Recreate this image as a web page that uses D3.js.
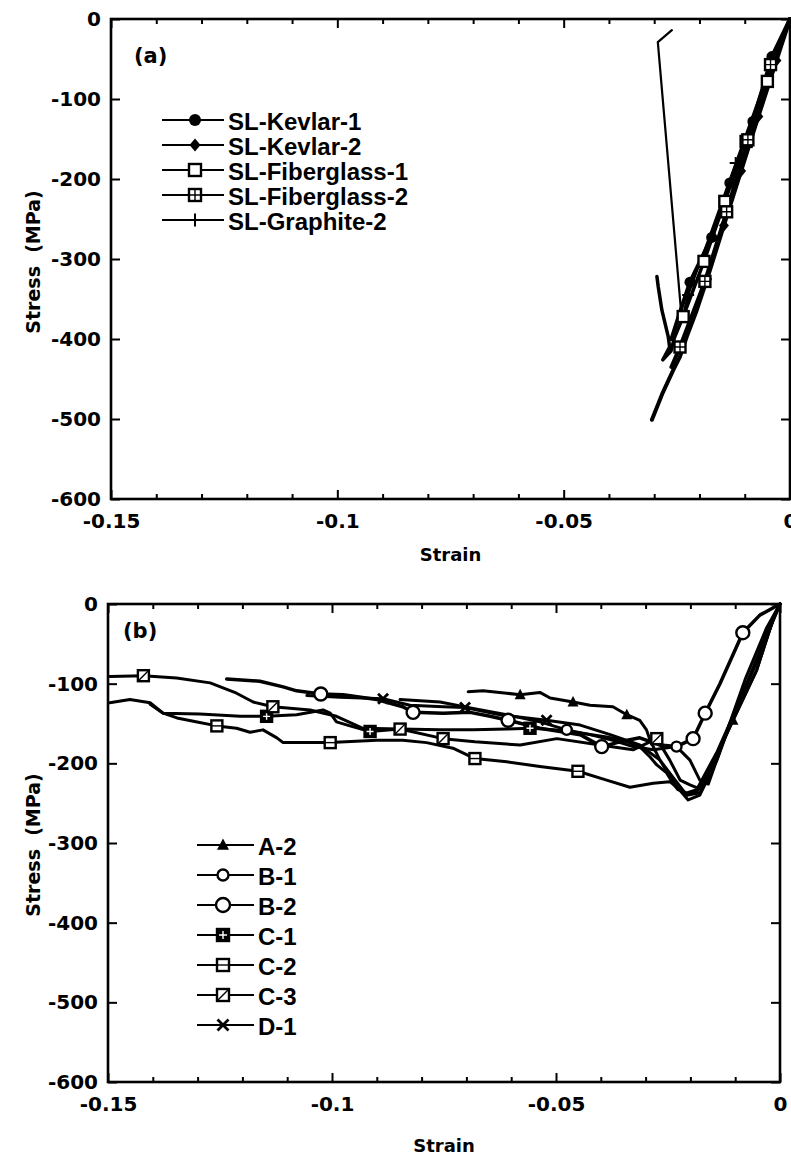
<!DOCTYPE html>
<html>
<head>
<meta charset="utf-8">
<style>
body { margin: 0; background: #fff; }
svg text { fill: #000; }
</style>
</head>
<body>
<svg width="791" height="1157"></svg>
<script src="https://cdn.jsdelivr.net/npm/d3@7"></script>
<script>
// axis ticks (both panels)
var strainTicks = [-0.15, -0.1, -0.05, 0];
var strainMinor = [-0.14, -0.13, -0.12, -0.11, -0.09, -0.08, -0.07, -0.06, -0.04, -0.03, -0.02, -0.01];
var stressTicks = [0, -100, -200, -300, -400, -500, -600];

// panel (a) : [strain, stress, 1 = marker drawn here]
var namesA = ["SL-Kevlar-1", "SL-Kevlar-2", "SL-Fiberglass-1", "SL-Fiberglass-2", "SL-Graphite-2"];
var kevlar1 = [[0,0],[-0.0040,-47,1],[-0.0082,-128,1],[-0.0133,-205,1],[-0.0173,-273,1],[-0.0221,-329,1],[-0.0245,-370],[-0.0262,-400]];
var kevlar2 = [[0,0],[-0.0030,-52,1],[-0.0070,-122,1],[-0.0108,-190,1],[-0.0146,-258,1],[-0.0183,-325,1],[-0.0206,-364],[-0.0228,-397],[-0.0243,-422],[-0.0258,-439],[-0.0281,-467],[-0.0305,-501]];
var fiberglass1 = [[0,0],[-0.0050,-78,1],[-0.0097,-153,1],[-0.0144,-228,1],[-0.0190,-303,1],[-0.0236,-372,1],[-0.0255,-398],[-0.0263,-415],[-0.0281,-426],[-0.0266,-410],[-0.0269,-397],[-0.0283,-364],[-0.0291,-335],[-0.0294,-322]];
var fiberglass2 = [[0,0],[-0.0043,-57,1],[-0.0093,-151,1],[-0.0140,-241,1],[-0.0188,-328,1],[-0.0243,-410,1],[-0.0262,-435]];
var graphite2 = [[0,0],[-0.0060,-85],[-0.0120,-180,1],[-0.0180,-275],[-0.0225,-345,1],[-0.0239,-376],[-0.0292,-29],[-0.0261,-14]];

// panel (b)
var namesB = ["A-2", "B-1", "B-2", "C-1", "C-2", "C-3", "D-1"];
var a2 = [[-0.0696,-110],[-0.0663,-109],[-0.0610,-112],[-0.0580,-114,1],[-0.0536,-111],[-0.0513,-118],[-0.0462,-123,1],[-0.0424,-127],[-0.0373,-129],[-0.0342,-139,1],[-0.0313,-146],[-0.0298,-158],[-0.0290,-171],[-0.0268,-196],[-0.0234,-221],[-0.0208,-240],[-0.0185,-235],[-0.0150,-200],[-0.0105,-146,1],[-0.0052,-83],[-0.0016,-20],[0,0]];
var b1 = [[-0.0848,-120],[-0.0759,-123],[-0.0685,-131],[-0.0610,-139],[-0.0536,-148],[-0.0476,-158,1],[-0.0424,-164],[-0.0373,-171],[-0.0328,-179],[-0.0283,-183],[-0.0231,-179,1],[-0.0201,-196],[-0.0179,-221],[-0.0160,-226],[-0.0125,-170],[-0.0078,-95],[-0.0030,-30],[0,0]];
var b2 = [[-0.1235,-94],[-0.1161,-97],[-0.1109,-104],[-0.1079,-109],[-0.1025,-113,1],[-0.0975,-114],[-0.0900,-120],[-0.0842,-129],[-0.0819,-136,1],[-0.0752,-137],[-0.0692,-136],[-0.0647,-141],[-0.0607,-146,1],[-0.0536,-156],[-0.0446,-164],[-0.0398,-179,1],[-0.0357,-173],[-0.0313,-168],[-0.0268,-177],[-0.0231,-179],[-0.0194,-169,1],[-0.0167,-137,1],[-0.0134,-100],[-0.0083,-36,1],[-0.0045,-14],[0,0]];
var c1 = [[-0.1406,-126],[-0.1377,-137],[-0.1295,-138],[-0.1205,-141],[-0.1146,-141,1],[-0.1079,-139],[-0.1020,-133],[-0.1004,-137],[-0.0990,-148],[-0.0960,-153],[-0.0915,-160,1],[-0.0848,-157],[-0.0759,-158],[-0.0685,-158],[-0.0610,-157],[-0.0558,-156,1],[-0.0498,-158],[-0.0446,-162],[-0.0387,-167],[-0.0350,-171],[-0.0313,-179],[-0.0290,-192],[-0.0275,-202],[-0.0253,-212],[-0.0239,-225],[-0.0228,-233],[-0.0208,-237],[-0.0186,-233],[-0.0140,-185],[-0.0094,-127],[-0.0050,-66],[-0.0018,-20],[0,0]];
var c2 = [[-0.1496,-124],[-0.1451,-120],[-0.1406,-124],[-0.1377,-137],[-0.1346,-143],[-0.1301,-148],[-0.1257,-153,1],[-0.1213,-156],[-0.1183,-161],[-0.1154,-158],[-0.1123,-168],[-0.1109,-174],[-0.1049,-174],[-0.1004,-174,1],[-0.0900,-171],[-0.0842,-171],[-0.0789,-174],[-0.0730,-181],[-0.0681,-194,1],[-0.0610,-198],[-0.0536,-204],[-0.0451,-210,1],[-0.0387,-221],[-0.0335,-230],[-0.0283,-225],[-0.0246,-223],[-0.0208,-240],[-0.0179,-237],[-0.0105,-146],[-0.0052,-83],[-0.0016,-20],[0,0]];
var c3 = [[-0.1496,-91],[-0.1421,-90,1],[-0.1347,-93],[-0.1272,-99],[-0.1213,-112],[-0.1176,-123],[-0.1132,-129,1],[-0.1049,-133],[-0.0990,-141],[-0.0931,-156],[-0.0848,-157,1],[-0.0752,-169,1],[-0.0681,-173],[-0.0580,-177],[-0.0498,-169],[-0.0402,-177],[-0.0328,-183],[-0.0275,-169,1],[-0.0246,-196],[-0.0223,-221],[-0.0201,-227],[-0.0179,-232],[-0.0140,-190],[-0.0100,-135],[-0.0050,-70],[-0.0016,-22],[0,0]];
var d1 = [[-0.1056,-115],[-0.0982,-117],[-0.0886,-119,1],[-0.0826,-127],[-0.0752,-129],[-0.0703,-130,1],[-0.0625,-139],[-0.0521,-146,1],[-0.0446,-152],[-0.0379,-164],[-0.0313,-177],[-0.0268,-196],[-0.0234,-227],[-0.0205,-246],[-0.0179,-240],[-0.0140,-195],[-0.0100,-133],[-0.0045,-64],[-0.0015,-20],[0,0]];

var svg = d3.select("svg");

function marker(g, type, cx, cy, s) {
	var m = g.append("g").attr("transform", "translate(" + cx + "," + cy + ")");
	if (type == "dot") {
		m.append("circle").attr("r", s).attr("fill", "#000");
	} else if (type == "diamond") {
		m.append("path").attr("d", "M0," + (-s * 1.2) + "L" + s + ",0L0," + (s * 1.2) + "L" + (-s) + ",0Z").attr("fill", "#000");
	} else if (type == "plus") {
		m.append("path").attr("d", "M" + (-s) + ",0H" + s + "M0," + (-s) + "V" + s).attr("stroke", "#000").attr("stroke-width", 2);
	} else if (type == "triangle") {
		m.append("path").attr("d", "M0," + (-s * 1.1) + "L" + s + "," + (s * 0.8) + "L" + (-s) + "," + (s * 0.8) + "Z").attr("fill", "#000");
	} else if (type == "circle") {
		m.append("circle").attr("r", s).attr("fill", "#fff").attr("stroke", "#000").attr("stroke-width", 2.4);
	} else if (type == "x") {
		m.append("path").attr("d", "M" + (-s) + "," + (-s) + "L" + s + "," + s + "M" + (-s) + "," + s + "L" + s + "," + (-s)).attr("stroke", "#000").attr("stroke-width", 2.8);
	} else {
		// square family
		m.append("rect").attr("x", -s).attr("y", -s).attr("width", 2 * s).attr("height", 2 * s)
		  .attr("fill", type == "squareFill" ? "#000" : "#fff").attr("stroke", "#000").attr("stroke-width", 2.4);
		var inner = "";
		if (type == "squareCross") inner = "M" + (-s) + ",0H" + s + "M0," + (-s) + "V" + s;
		if (type == "squareFill") inner = "M" + (-s + 2) + ",0H" + (s - 2) + "M0," + (-s + 2) + "V" + (s - 2);
		if (type == "squareLine") inner = "M" + (-s) + ",0H" + s;
		if (type == "squareSlash") inner = "M" + (-s) + "," + s + "L" + s + "," + (-s);
		if (inner) m.append("path").attr("d", inner).attr("stroke", type == "squareFill" ? "#fff" : "#000").attr("stroke-width", 1.4);
	}
}

function drawPanel(p) {
	var x = d3.scaleLinear().domain([-0.15, 0]).range([p.left, p.right]);
	var y = d3.scaleLinear().domain([0, -600]).range([p.top, p.bottom]);
	var g = svg.append("g");

	g.append("g").attr("transform", "translate(0," + p.bottom + ")")
	  .call(d3.axisBottom(x).tickValues(strainMinor).tickSize(-5).tickFormat(""));
	g.append("g").attr("transform", "translate(0," + p.top + ")")
	  .call(d3.axisTop(x).tickValues(strainMinor).tickSize(-5).tickFormat(""));
	g.append("g").attr("transform", "translate(0," + p.bottom + ")")
	  .call(d3.axisBottom(x).tickValues(strainTicks).tickSize(-9).tickPadding(15).tickFormat(function(d) { return String(d); }));
	g.append("g").attr("transform", "translate(0," + p.top + ")")
	  .call(d3.axisTop(x).tickValues(strainTicks).tickSize(-9).tickFormat(""));
	g.append("g").attr("transform", "translate(" + p.left + ",0)")
	  .call(d3.axisLeft(y).tickValues(stressTicks).tickSize(-9).tickPadding(10).tickFormat(function(d) { return String(d); }));
	g.append("g").attr("transform", "translate(" + p.right + ",0)")
	  .call(d3.axisRight(y).tickValues(stressTicks).tickSize(-9).tickFormat(""));
	g.selectAll(".domain").remove();
	g.selectAll(".tick line").attr("stroke", "#000").attr("stroke-width", 2);
	g.selectAll(".tick text").attr("font-family", "'DejaVu Sans', sans-serif").attr("font-weight", "bold").attr("font-size", 20).attr("fill", "#000");

	g.append("rect").attr("x", p.left).attr("y", p.top).attr("width", p.right - p.left).attr("height", p.bottom - p.top)
	  .attr("fill", "none").attr("stroke", "#000").attr("stroke-width", 2.6);

	var line = d3.line().x(function(d) { return x(d[0]); }).y(function(d) { return y(d[1]); });
	p.series.forEach(function(s, i) {
		g.append("path").datum(s).attr("d", line).attr("fill", "none").attr("stroke", "#000")
		  .attr("stroke-width", p.widths[i]).attr("stroke-linejoin", "round").attr("stroke-linecap", "round");
	});
	p.series.forEach(function(s, i) {
		s.filter(function(d) { return d[2]; }).forEach(function(d) {
			marker(g, p.markers[i], x(d[0]), y(d[1]), p.msize[i]);
		});
	});

	// legend
	p.names.forEach(function(n, i) {
		var ly = p.legY + i * p.legStep;
		g.append("line").attr("x1", p.legX0).attr("x2", p.legX1).attr("y1", ly).attr("y2", ly)
		  .attr("stroke", "#000").attr("stroke-width", 1.8);
		marker(g, p.markers[i], p.legM, ly, p.msize[i] + 0.5);
		g.append("text").attr("x", p.legX1 + 4).attr("y", ly + 2).attr("dy", "0.35em")
		  .attr("font-family", "'Liberation Sans', Arial, sans-serif").attr("font-weight", "bold")
		  .attr("font-size", p.legFont).text(n);
	});

	g.append("text").attr("x", p.tagX).attr("y", p.tagY)
	  .attr("font-family", "'DejaVu Sans', sans-serif").attr("font-weight", "bold").attr("font-size", 21).text(p.tag);
	g.append("text").attr("x", (p.left + p.right) / 2).attr("y", p.xTitleY).attr("text-anchor", "middle")
	  .attr("font-family", "'DejaVu Sans', sans-serif").attr("font-weight", "bold").attr("font-size", 18).text("Strain");
	g.append("text").attr("transform", "translate(40," + p.yTitleY + ") rotate(-90)").attr("text-anchor", "middle")
	  .attr("font-family", "'DejaVu Sans', sans-serif").attr("font-weight", "bold").attr("font-size", 19)
	  .text("Stress\u00a0\u00a0(MPa)");
}

drawPanel({
	left: 111, right: 790, top: 19, bottom: 499,
	series: [kevlar1, kevlar2, fiberglass1, fiberglass2, graphite2],
	names: namesA,
	markers: ["dot", "diamond", "square", "squareCross", "plus"],
	msize: [5.5, 5, 5.5, 5.5, 6],
	widths: [4, 4, 3.5, 4, 2.2],
	legX0: 162, legX1: 224, legM: 195, legY: 120, legStep: 25, legFont: 24,
	tag: "(a)", tagX: 134, tagY: 63,
	xTitleY: 561, yTitleY: 262
});

drawPanel({
	left: 108, right: 780, top: 604, bottom: 1082,
	series: [a2, b1, b2, c1, c2, c3, d1],
	names: namesB,
	markers: ["triangle", "circle", "circle", "squareFill", "squareLine", "squareSlash", "x"],
	msize: [5.5, 5, 6.5, 5.5, 5.5, 5.5, 5],
	widths: [3, 3, 3.5, 3, 3, 3, 3],
	legX0: 197, legX1: 254, legM: 223, legY: 845, legStep: 30, legFont: 24,
	tag: "(b)", tagX: 123, tagY: 638,
	xTitleY: 1152, yTitleY: 845
});
</script>
</body>
</html>
